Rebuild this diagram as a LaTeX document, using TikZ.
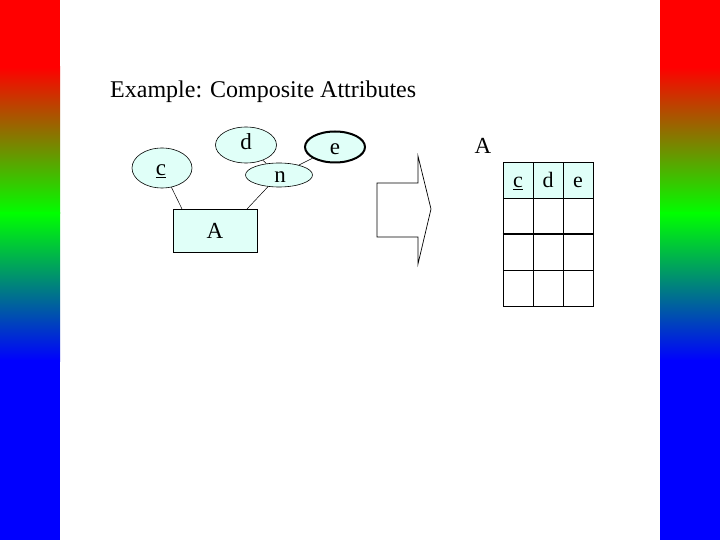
\documentclass[tikz,border=0pt]{standalone}
\usepackage{fontspec}
\setmainfont{Liberation Serif}
\usetikzlibrary{shapes.geometric}
\definecolor{attrfill}{RGB}{224,255,248}
\definecolor{barred}{RGB}{255,0,0}
\definecolor{bargreen}{RGB}{0,255,0}
\definecolor{barblue}{RGB}{0,0,255}
\newcommand{\ulc}{\underline{c}}
\tikzset{
  attr/.style={ellipse, draw, fill=attrfill, line width=0.6pt, inner sep=0pt},
  ent/.style={rectangle, draw, fill=attrfill, line width=0.6pt, inner sep=0pt},
  txt/.style={anchor=base, inner sep=0pt, font=\fontsize{23}{23}\selectfont},
  link/.style={line width=0.5pt},
  cell/.style={rectangle, draw, line width=0.8pt, minimum width=30pt, minimum height=36pt, inner sep=0pt, text height=18pt, text depth=2pt, font=\fontsize{22}{22}\selectfont},
}
\begin{document}
\begin{tikzpicture}[x=1pt,y=-1pt]
\useasboundingbox (0,0) rectangle (720,540);
\fill[white] (0,0) rectangle (720,540);
% side bars
\foreach \xa/\xb in {0/60,660/720}{
  \fill[barred] (\xa,0) rectangle (\xb,67);
  \shade[top color=barred, bottom color=bargreen] (\xa,67) rectangle (\xb,214);
  \shade[top color=bargreen, bottom color=barblue] (\xa,213) rectangle (\xb,361);
  \fill[barblue] (\xa,360) rectangle (\xb,540);
}
% title
\node[anchor=base west, inner sep=0pt, font=\fontsize{24}{24}\selectfont] (title) at (110,98) {Example: Composite Attributes};
% ER diagram
\node[ent, minimum width=84pt, minimum height=43pt] (A) at (215,230.5) {};
\node[attr, minimum width=60pt, minimum height=40pt] (c) at (162,168) {};
\node[attr, minimum width=61pt, minimum height=36pt] (d) at (246,145) {};
\node[attr, minimum width=67pt, minimum height=24pt] (n) at (279,175) {};
\node[attr, minimum width=60pt, minimum height=31pt, line width=2pt] (e) at (335,147) {};
\node[txt] (At) at (215,239) {A};
\node[txt] (ct) at (161,176) {\ulc};
\node[txt] (dt) at (246,150) {d};
\node[txt] (nt) at (280,183) {n};
\node[txt] (et) at (335,155) {e};
\coordinate (ac) at (182,209);
\coordinate (an) at (247,209);
\draw[link] (c) -- (ac);
\draw[link] (n) -- (an);
\draw[link] (d) -- (n);
\draw[link] (e) -- (n);
% block arrow
\coordinate (ar1) at (377,183);
\draw[line width=0.7pt] (ar1) -- (418,183) -- (418,156) -- (431,209) -- (418,264) -- (418,237) -- (377,237) -- cycle;
% table
\node[font=\fontsize{23}{23}\selectfont, inner sep=0pt] (tA) at (483,146) {A};
\foreach \col/\lab/\nm in {0/\ulc/c, 1/d/d, 2/e/e}{
  \node[cell, fill=attrfill] (h\nm) at (518+30*\col,180) {\lab};
  \node[cell] (r1\nm) at (518+30*\col,216) {};
  \node[cell] (r2\nm) at (518+30*\col,252) {};
  \node[cell] (r3\nm) at (518+30*\col,288) {};
}
\draw[line width=2pt] (r1c.south west) -- (r1e.south east);
\end{tikzpicture}
\end{document}
